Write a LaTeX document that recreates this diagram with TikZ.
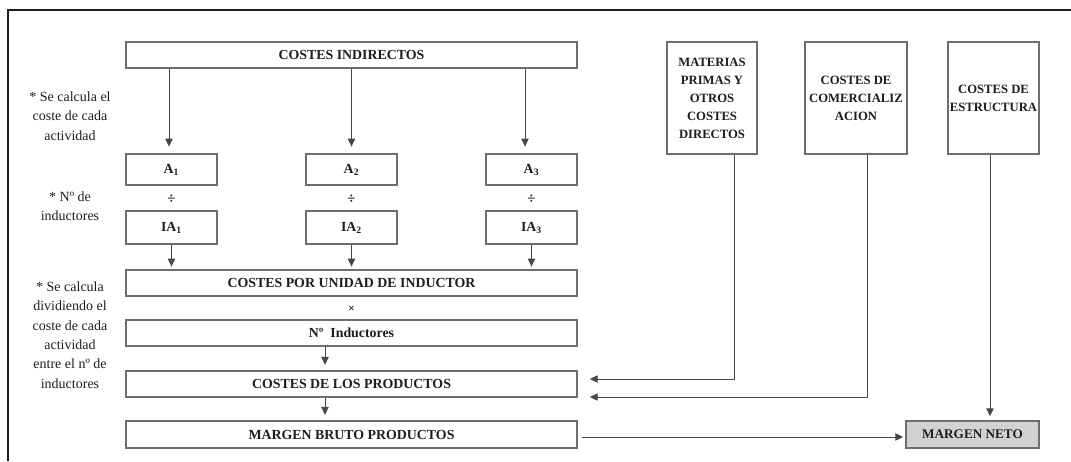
\documentclass[tikz,border=0pt]{standalone}
\usepackage{fontspec}
\setmainfont{Liberation Serif}
\usetikzlibrary{arrows.meta,calc}
\definecolor{edge}{HTML}{6E6E6E}
\definecolor{ink}{HTML}{1E1E1E}
\definecolor{wire}{HTML}{474747}
\definecolor{netfill}{HTML}{D2D2D2}
\begin{document}
\begin{tikzpicture}[x=0.75pt,y=-0.75pt,
  box/.style={draw=edge,line width=1.1pt,fill=white,inner sep=1pt,
    font=\fontsize{10.4}{12}\selectfont\bfseries,text=ink,align=center},
  wide/.style={box,minimum width=338.25pt,minimum height=19.5pt},
  small/.style={box,minimum width=68.25pt},
  tallbox/.style={box,minimum height=84pt,font=\fontsize{9.5}{13.5}\selectfont\bfseries},
  note/.style={align=center,font=\fontsize{10.5}{14.6}\selectfont,text=ink,inner sep=0pt},
  op/.style={font=\fontsize{11}{12}\selectfont\bfseries,text=ink,inner sep=0pt},
  arr/.style={draw=wire,line width=0.75pt,-{Triangle[length=6pt,width=5.5pt]},shorten >=2pt},
]
\useasboundingbox (0,0) rectangle (1071,461);

% outer frame (top and left sides)
\draw[line width=1.2pt,draw=ink] (1071,10) -- (8,10) -- (8,461);

% activity-based cost chain
\node[wide] (ci) at (351.5,55) {COSTES INDIRECTOS};
\node[small,minimum height=23.25pt] (a1) at (171.5,169.5) {A\textsubscript{1}};
\node[small,minimum height=23.25pt] (a2) at (351.5,169.5) {A\textsubscript{2}};
\node[small,minimum height=23.25pt] (a3) at (531.5,169.5) {A\textsubscript{3}};
\node[op] (d1) at (171.5,199) {÷};
\node[op] (d2) at (351.5,199) {÷};
\node[op] (d3) at (531.5,199) {÷};
\node[small,minimum height=24.75pt] (ia1) at (171.5,227.5) {IA\textsubscript{1}};
\node[small,minimum height=24.75pt] (ia2) at (351.5,227.5) {IA\textsubscript{2}};
\node[small,minimum height=24.75pt] (ia3) at (531.5,227.5) {IA\textsubscript{3}};
\node[wide] (cpu) at (351.5,283) {COSTES POR UNIDAD DE INDUCTOR};
\node[op,font=\fontsize{9}{10}\selectfont\bfseries] (mul) at (351.5,309) {×};
\node[wide] (ni) at (351.5,333) {Nº\ \ Inductores};
\node[wide] (cp) at (351.5,384) {COSTES DE LOS PRODUCTOS};
\node[wide,minimum height=20.25pt] (mb) at (351.5,434.5) {MARGEN BRUTO PRODUCTOS};

% other cost sources
\node[tallbox,minimum width=67.5pt] (mat) at (712,98) {MATERIAS\\PRIMAS Y\\OTROS\\COSTES\\DIRECTOS};
\node[tallbox,minimum width=76.5pt] (com) at (856,98) {COSTES DE\\COMERCIALIZ\\ACION};
\node[tallbox,minimum width=68.25pt] (est) at (993.5,98) {COSTES DE\\ESTRUCTURA};
\node[box,fill=netfill,minimum width=99.75pt,minimum height=20.25pt,
      font=\fontsize{9.9}{12}\selectfont\bfseries] (mn) at (972.5,434.5) {MARGEN NETO};

% side notes
\node[note] (n1) at (70,116) {* Se calcula el\\coste de cada\\actividad};
\node[note] (n2) at (70,206) {* Nº de\\inductores};
\node[note] (n3) at (70,335) {* Se calcula\\dividiendo el\\coste de cada\\actividad\\entre el nº de\\inductores};

% connectors
\draw[arr,shorten >=5pt] (ci.south -| 169,0) -- (a1.north -| 169,0);
\draw[arr,shorten >=5pt] (ci.south -| 351.5,0) -- (a2.north -| 351.5,0);
\draw[arr,shorten >=5pt] (ci.south -| 525,0) -- (a3.north -| 525,0);
\draw[arr] (ia1.south) -- (ia1.south |- cpu.north);
\draw[arr] (ia2.south) -- (ia2.south |- cpu.north);
\draw[arr] (ia3.south) -- (ia3.south |- cpu.north);
\draw[arr,shorten >=4pt] (ni.south -| 325,0) -- (cp.north -| 325,0);
\draw[arr,shorten >=4pt] (cp.south -| 325,0) -- (mb.north -| 325,0);
\draw[arr,shorten >=0pt] (mat.south -| 734,0) |- ($(cp.east)+(12,-5)$);
\draw[arr,shorten >=0pt] (com.south -| 867,0) |- ($(cp.east)+(12,13)$);
\draw[arr,shorten >=3pt] (est.south -| 990,0) -- (mn.north -| 990,0);
\draw[arr,shorten >=1.5pt] ($(mb.east)+(4,2.5)$) -- ($(mn.west)+(0,2.5)$);
\end{tikzpicture}
\end{document}
